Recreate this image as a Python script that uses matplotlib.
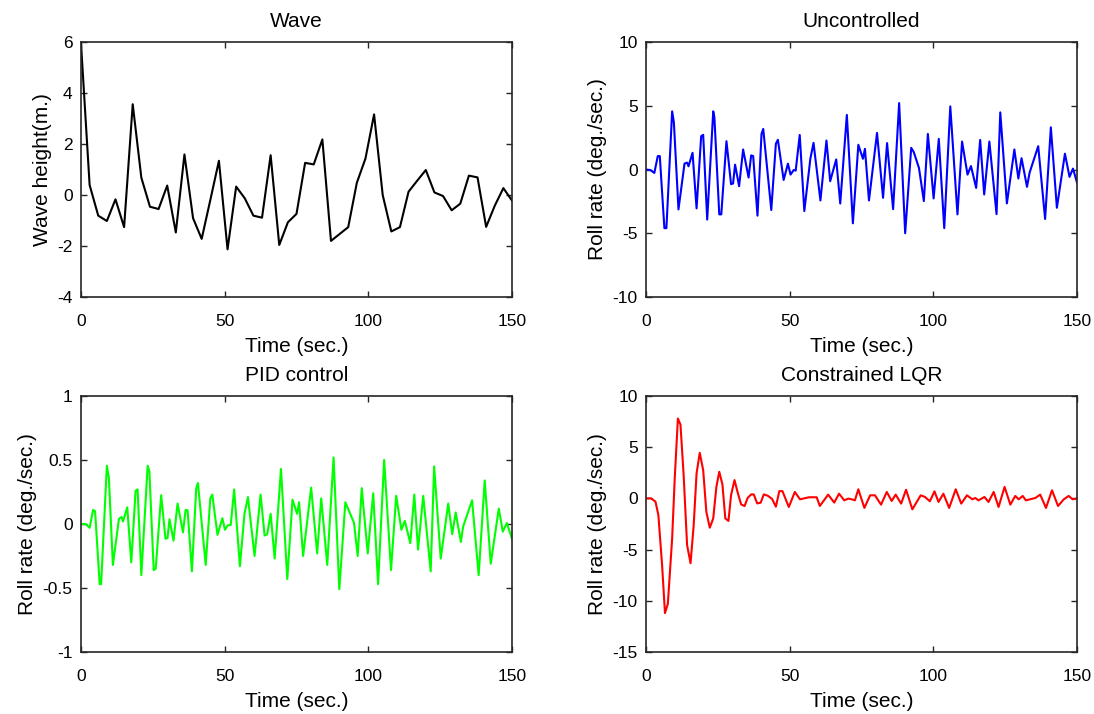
import numpy as np
import matplotlib.pyplot as plt

# Wave height, sampled every 3 s
wave_t = np.arange(0, 151, 3)
wave_h = [5.95, 0.39, -0.81, -1.02, -0.17, -1.26, 3.56, 0.68, -0.46, -0.55,
          0.37, -1.47, 1.59, -0.91, -1.72, -0.2, 1.34, -2.13, 0.33, -0.13,
          -0.81, -0.89, 1.56, -1.96, -1.07, -0.74, 1.26, 1.2, 2.18, -1.8,
          -1.53, -1.26, 0.48, 1.43, 3.16, 0.0, -1.43, -1.26, 0.13, 0.56,
          0.98, 0.1, -0.04, -0.6, -0.34, 0.76, 0.69, -1.25, -0.42, 0.27,
          -0.22]

# Uncontrolled roll rate
unc_t = [0, 1.5, 2.9, 4.1, 4.8, 6.4, 7.1, 9.1, 9.7, 11.3,
         13.4, 14.3, 14.8, 16.2, 17.6, 19.2, 19.9, 21.3, 23.4, 23.8,
         25.5, 26.2, 28.0, 29.6, 30.3, 31.0, 32.4, 33.8, 35.7, 36.6,
         37.3, 38.8, 40.2, 40.8, 43.6, 45.2, 45.9, 47.9, 49.4, 50.3,
         51.4, 52.1, 53.5, 55.1, 57.2, 58.3, 60.7, 62.8, 64.1, 66.2,
         67.6, 69.9, 72.0, 73.9, 75.5, 76.2, 77.6, 80.4, 82.5, 83.9,
         86.0, 88.1, 90.2, 92.3, 93.2, 95.0, 96.7, 98.1, 100.1, 101.9,
         103.8, 105.9, 108.4, 110.0, 111.9, 113.1, 114.9, 116.3, 117.7, 119.5,
         122.0, 123.3, 125.6, 128.2, 129.6, 130.7, 132.6, 133.5, 136.5, 138.9,
         140.9, 143.0, 145.8, 147.4, 148.6, 150.0]
unc_v = [0, -0.04, -0.27, 1.05, 1.05, -4.6, -4.6, 4.56, 3.7, -3.13,
         0.46, 0.54, 0.25, 1.31, -3.05, 2.61, 2.72, -3.93, 4.56, 4.09,
         -3.52, -3.52, 2.22, -1.15, -1.10, 0.38, -1.31, 1.57, -0.63, 1.11,
         1.05, -3.62, 2.79, 3.18, -3.18, 2.02, 2.33, -0.82, 0.46, -0.4,
         -0.04, -0.09, 2.71, -3.26, 0.84, 2.09, -2.43, 2.27, -0.92, 0.79,
         -2.67, 4.28, -4.22, 1.94, 0.84, 1.62, -2.43, 2.87, -2.22, 2.07,
         -3.11, 5.21, -5.0, 1.7, 1.36, 0.12, -2.48, 2.79, -2.27, 2.4,
         -4.6, 4.95, -3.52, 2.19, -0.4, 0.27, -1.44, 2.32, -1.96, 2.19,
         -3.5, 4.48, -2.66, 1.57, -0.71, 0.89, -1.36, -0.25, 1.83, -3.88,
         3.31, -3.0, 1.24, -0.58, 0.07, -1.02]

# PID controlled roll rate
pid_t = [0, 1.6, 3.0, 4.2, 4.9, 6.5, 7.0, 9.0, 9.7, 11.1,
         13.2, 14.1, 14.6, 16.1, 17.5, 19.0, 19.7, 21.0, 23.2, 23.8,
         25.3, 26.0, 27.9, 29.4, 30.1, 30.8, 32.2, 33.6, 35.5, 36.4,
         37.1, 38.6, 40.1, 40.7, 43.4, 45.0, 45.7, 47.5, 49.2, 50.1,
         51.1, 52.1, 53.3, 55.3, 56.9, 58.1, 60.4, 62.5, 63.9, 64.8,
         66.0, 67.4, 69.6, 71.8, 73.6, 75.2, 75.9, 77.3, 80.1, 82.2,
         83.6, 85.7, 87.9, 89.9, 92.0, 95.0, 96.3, 97.7, 99.8, 101.7,
         103.4, 105.5, 107.9, 109.7, 111.5, 112.7, 114.6, 116.0, 117.3, 119.1,
         121.7, 122.9, 125.2, 127.8, 129.2, 130.4, 132.2, 133.0, 136.1, 138.4,
         140.5, 142.6, 145.4, 146.8, 148.2, 150.0]
pid_v = [0, 0, -0.03, 0.11, 0.10, -0.47, -0.47, 0.455, 0.36, -0.32,
         0.04, 0.055, 0.02, 0.13, -0.30, 0.26, 0.27, -0.40, 0.455, 0.41,
         -0.36, -0.35, 0.225, -0.115, -0.11, 0.037, -0.13, 0.16, -0.065, 0.11,
         0.107, -0.37, 0.28, 0.32, -0.32, 0.20, 0.23, -0.085, 0.045, -0.045,
         -0.01, -0.008, 0.27, -0.33, 0.08, 0.21, -0.25, 0.23, -0.09, -0.08,
         0.08, -0.27, 0.43, -0.43, 0.19, 0.08, 0.17, -0.25, 0.285, -0.23,
         0.20, -0.32, 0.52, -0.51, 0.17, 0.01, -0.25, 0.28, -0.23, 0.24,
         -0.47, 0.50, -0.36, 0.22, -0.045, 0.024, -0.15, 0.23, -0.20, 0.22,
         -0.37, 0.45, -0.27, 0.16, -0.08, 0.09, -0.14, -0.02, 0.185, -0.40,
         0.34, -0.31, 0.12, -0.06, 0.008, -0.115]

# Constrained LQR roll rate
lqr_t = [0, 1.8, 3.3, 4.3, 5.6, 6.6, 7.6, 9.1, 10.0, 11.1,
         12.0, 13.1, 14.3, 15.5, 16.6, 17.6, 18.7, 19.9, 21.0, 22.2,
         23.4, 24.5, 25.5, 26.6, 27.6, 28.7, 29.6, 30.8, 31.9, 33.1,
         34.3, 35.4, 36.6, 37.5, 38.7, 39.9, 41.0, 42.4, 43.9, 45.2,
         46.4, 47.5, 49.7, 51.8, 53.6, 54.7, 56.7, 59.4, 60.5, 63.4,
         65.5, 67.2, 69.0, 70.4, 71.6, 72.7, 73.9, 76.0, 78.0, 79.7,
         81.8, 83.8, 85.5, 86.9, 88.8, 90.5, 92.7, 95.6, 97.1, 98.8,
         100.4, 101.8, 103.5, 105.5, 107.8, 109.7, 111.7, 113.6, 114.6, 115.7,
         117.8, 119.2, 121.0, 122.7, 124.8, 126.8, 128.5, 129.7, 131.1, 132.2,
         135.5, 137.2, 139.2, 141.3, 143.4, 145.4, 147.1, 148.5, 150.0]
lqr_v = [0, 0, -0.32, -1.62, -6.5, -11.2, -10.3, -3.9, 1.95, 7.8,
         7.2, 2.27, -4.55, -6.33, -2.6, 2.44, 4.45, 2.76, -1.3, -2.86,
         -1.95, 1.14, 2.6, 1.36, -1.95, -2.2, 0.32, 1.79, 0.58, -0.58,
         -0.75, 0.06, 0.39, 0.39, -0.49, -0.42, 0.39, 0.26, -0.06, -0.81,
         0.71, 0.71, -0.84, 0.63, -0.09, -0.02, 0.11, 0.11, -0.74, 0.37,
         -0.41, 0.46, -0.19, -0.02, -0.09, -0.19, 0.89, -0.93, 0.3, 0.3,
         -0.61, 0.63, -0.25, 0.37, -0.51, 0.85, -1.07, 0.3, 0.14, -0.28,
         0.69, -0.35, 0.46, -0.93, 0.89, -0.51, 0.3, -0.09, 0.04, -0.19,
         0.14, -0.35, 0.63, -0.84, 1.12, -0.61, 0.24, -0.09, 0.24, -0.19,
         0.04, 0.37, -0.93, 0.79, -0.74, -0.09, 0.24, -0.09, -0.02]

plt.rcParams['font.family'] = ['Liberation Sans', 'DejaVu Sans']
axis_col = '#262626'

fig = plt.figure(figsize=(10.94, 7.14), dpi=100)
W, H = 1094, 714


def make_ax(x0, y0, x1, y1):
    # pixel box -> figure fraction
    return fig.add_axes([x0 / W, 1 - y1 / H, (x1 - x0) / W, (y1 - y0) / H])


panels = [
    (make_ax(81, 42, 512, 297), wave_t, wave_h, 'k', 'Wave', 'Wave height(m.)', (-4, 6), [-4, -2, 0, 2, 4, 6]),
    (make_ax(646, 42, 1077, 297), unc_t, unc_v, '#0000ff', 'Uncontrolled', 'Roll rate (deg./sec.)', (-10, 10), [-10, -5, 0, 5, 10]),
    (make_ax(81, 396, 512, 652), pid_t, pid_v, '#00ff00', 'PID control', 'Roll rate (deg./sec.)', (-1, 1), [-1, -0.5, 0, 0.5, 1]),
    (make_ax(646, 396, 1077, 652), lqr_t, lqr_v, '#ff0000', 'Constrained LQR', 'Roll rate (deg./sec.)', (-15, 10), [-15, -10, -5, 0, 5, 10]),
]

for ax, t, v, col, title, ylab, ylim, yticks in panels:
    ax.plot(t, v, color=col, lw=1.5)
    ax.set_xlim(0, 150)
    ax.set_ylim(*ylim)
    ax.set_xticks([0, 50, 100, 150])
    ax.set_yticks(yticks)
    ax.set_yticklabels([f'{y:g}' for y in yticks])
    ax.set_title(title, fontsize=15, pad=11, color='k')
    ax.set_xlabel('Time (sec.)', fontsize=15, labelpad=6)
    ax.set_ylabel(ylab, fontsize=15, labelpad=4)
    ax.tick_params(direction='in', top=True, right=True, length=4, width=1,
                   labelsize=12.5, colors=axis_col, labelcolor='k')
    ax.tick_params(axis='x', pad=12)
    ax.tick_params(axis='y', pad=6)
    for s in ax.spines.values():
        s.set_color(axis_col)
        s.set_linewidth(1.2)

fig.savefig('out.png', dpi=100)
